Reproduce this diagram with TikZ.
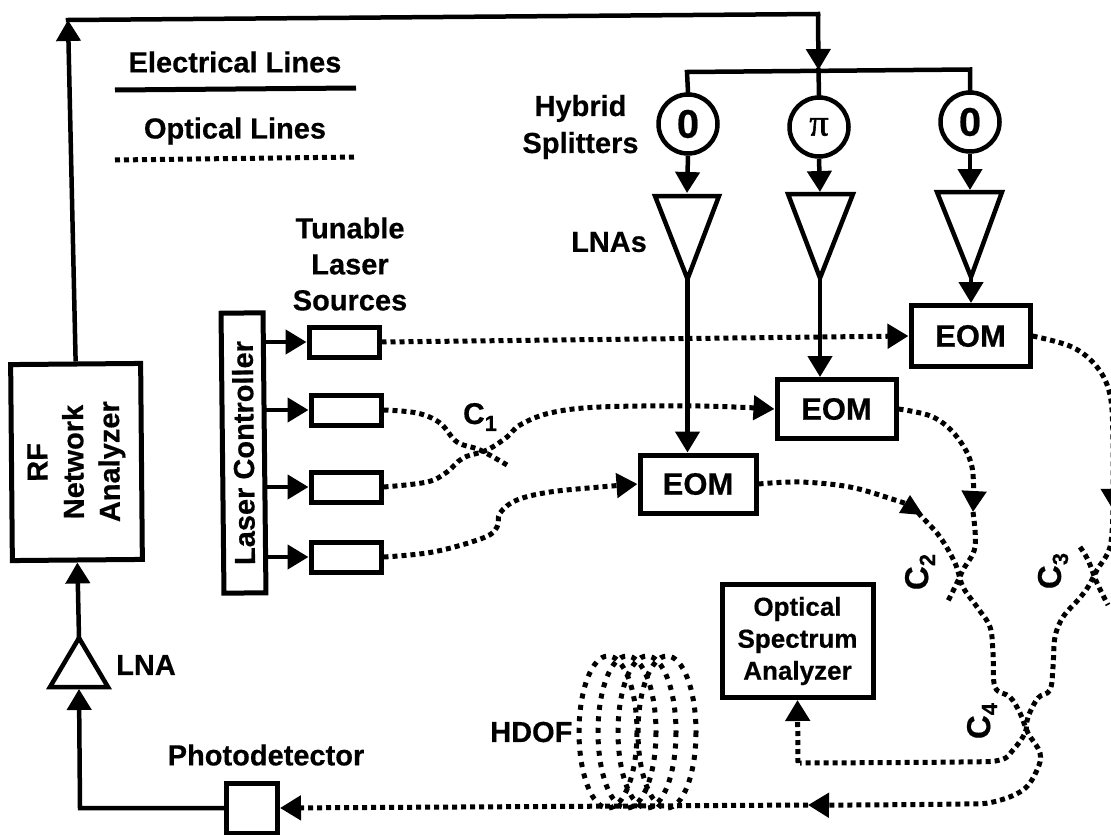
\documentclass[tikz,border=0pt]{standalone}
\usepackage{fontspec}
\setmainfont{Liberation Sans}[BoldFeatures={FakeBold=0.5}]
\newfontfamily\pifont{Liberation Serif}[FakeBold=1.5]
\usetikzlibrary{arrows.meta}
\tikzset{
  x=1pt,y=-1pt,
  el/.style={line width=4.5pt,line join=miter,line cap=rect},
  elt/.style={line width=4.5pt,-{Triangle[length=21pt,width=24pt]}},
  opt/.style={line width=5pt,dash pattern=on 5pt off 4pt},
  optt/.style={line width=5pt,dash pattern=on 5pt off 4pt,-{Triangle[length=21pt,width=24pt]}},
  coil/.style={line width=5pt,dash pattern=on 5pt off 6.5pt},
  boxn/.style={draw,line width=5pt,inner sep=0pt,align=center},
  lbl/.style={font=\fontsize{29}{36}\selectfont\bfseries,inner sep=0pt,align=center},
  eomn/.style={boxn,font=\fontsize{31}{36}\selectfont\bfseries},
  phase/.style={circle,draw,line width=4.5pt,minimum size=59pt,inner sep=0pt},
  srcn/.style={boxn,minimum width=70pt,minimum height=30pt},
  coup/.style={inner sep=0pt,font=\fontsize{30}{34}\selectfont\bfseries},
  coupr/.style={inner sep=0pt,rotate=90,font=\fontsize{33}{36}\selectfont\bfseries},
}
\newcommand{\subdig}[1]{\raisebox{-7pt}{\fontsize{22}{24}\selectfont #1}}
\begin{document}
\begin{tikzpicture}
\useasboundingbox (0,0) rectangle (1111,835);
\clip (0,0) rectangle (1111,835);
% legend
\node[lbl] (legE) at (235,62) {Electrical Lines};
\node[lbl] (legO) at (235,131) {Optical Lines};
\coordinate (le1) at (115,90); \coordinate (le2) at (356,88);
\coordinate (lo1) at (115,160); \coordinate (lo2) at (356,157);
\draw[line width=5pt] (le1) -- (le2);
\draw[opt] (lo1) -- (lo2);
% blocks
\node[boxn,rotate=90.5,minimum width=196pt,minimum height=130pt,font=\fontsize{29}{36}\selectfont\bfseries] (rf) at (76.5,462) {RF\\Network\\Analyzer};
\node[boxn,rotate=90.6,minimum width=280pt,minimum height=42pt,font=\fontsize{29}{34}\selectfont\bfseries] (ctrl) at (243.5,453) {Laser Controller};
\node[srcn] (l1) at (344,342) {};
\node[srcn] (l2) at (346,410) {};
\node[srcn] (l3) at (346,487) {};
\node[srcn] (l4) at (346,557) {};
\node[eomn,minimum width=116pt,minimum height=58pt] (e1) at (698,484) {EOM};
\node[eomn,minimum width=119pt,minimum height=59pt] (e2) at (836.5,409) {EOM};
\node[eomn,minimum width=119pt,minimum height=61pt] (e3) at (970.5,336) {EOM};
\node[boxn,minimum width=151pt,minimum height=113pt,font=\fontsize{26}{32}\selectfont\bfseries] (osa) at (797.5,641) {Optical\\Spectrum\\Analyzer};
\node[boxn,minimum width=51pt,minimum height=50pt] (pd) at (252,808) {};
% phase circles
\node[phase,font=\fontsize{40}{44}\selectfont\bfseries] (s1) at (688,124) {0};
\node[phase,font=\fontsize{38}{40}\selectfont\pifont] (s2) at (819,127) {π};
\node[phase,font=\fontsize{40}{44}\selectfont\bfseries] (s3) at (970,122) {0};
% labels
\node[lbl,font=\fontsize{29}{37}\selectfont\bfseries] (hyb) at (580.5,127) {Hybrid\\Splitters};
\node[lbl] (lnas) at (609,242) {LNAs};
\node[lbl] (tun) at (350,264) {Tunable\\Laser\\Sources};
\node[lbl,anchor=west] (lnat) at (116,665) {LNA};
\node[lbl] (pdt) at (266,755) {Photodetector};
\node[lbl,anchor=west] (hd) at (490,732) {HDOF};
\node[coup] (c1) at (480,417) {C\subdig{1}};
\node[coupr] (c2) at (920,572) {C\subdig{2}};
\node[coupr] (c3) at (1053,571) {C\subdig{3}};
\node[coupr] (c4) at (982,721) {C\subdig{4}};
% amplifiers
\coordinate (a1l) at (655,196); \coordinate (a1r) at (719,196); \coordinate (a1a) at (687.5,279); \coordinate (a1t) at (687,193);
\coordinate (a2l) at (788,194); \coordinate (a2r) at (853,194); \coordinate (a2a) at (820,278); \coordinate (a2t) at (820,192);
\coordinate (a3l) at (937,192); \coordinate (a3r) at (1002,192); \coordinate (a3a) at (971,277); \coordinate (a3t) at (970,190);
\draw[el] (a1l) -- (a1r) -- (a1a) -- cycle;
\draw[el] (a2l) -- (a2r) -- (a2a) -- cycle;
\draw[el] (a3l) -- (a3r) -- (a3a) -- cycle;
\coordinate (aol) at (50,687); \coordinate (aor) at (108,687); \coordinate (aoa) at (79,638); \coordinate (aot) at (79,689);
\draw[el] (aol) -- (aor) -- (aoa) -- cycle;
% optical paths
\draw[optt] (l1.east) -- (e3.west);
\draw[opt] plot[smooth,tension=0.6] coordinates {(l2.east) (417,413) (440,423) (457,442) (480,450) (507,465)};
\draw[optt] plot[smooth,tension=0.6] coordinates {(l3.east) (427,482) (447,472) (463,458) (487,450) (507,437) (520,425) (550,413) (600,407) (700,406) (e2.west)};
\draw[optt] plot[smooth,tension=0.6] coordinates {(l4.east) (433,552) (483,538) (497,527) (500,513) (517,500) (550,492) (600,487) (e1.west)};
% EOM1 through C2 and C4 to the fibre
\coordinate (h1) at (912,506);
\coordinate (fb) at (808,805);
\draw[opt] plot[smooth,tension=0.6] coordinates {(e1.east) (800,482) (850,487) (895,500) (h1)};
\fill (910,495) -- (923,515) -- (899,513) -- cycle;
\draw[optt] plot[smooth,tension=0.6] coordinates {(h1) (922,517) (940,537) (955,563) (963,587) (977,607) (990,627) (993,653) (995,687) (1010,697) (1020,713) (1028,733) (1040,753) (1037,770) (1023,790) (993,802) (960,804) (850,805) (fb)};
% EOM2 through C2
\coordinate (h2) at (973,512);
\draw[optt] plot[smooth,tension=0.6] coordinates {(e2.east) (933,417) (957,437) (972,467) (h2)};
\draw[opt] plot[smooth,tension=0.6] coordinates {(h2) (975,547) (963,570) (955,587) (947,603)};
% EOM3 through C3
\coordinate (h3) at (1113,510);
\draw[optt] plot[smooth,tension=0.6] coordinates {(e3.east) (1072,347) (1097,367) (1110,395) (1113,440) (h3)};
\draw[opt] plot[smooth,tension=0.6] coordinates {(h3) (1110,547) (1097,570) (1088,587) (1078,600) (1063,617) (1055,637) (1053,667) (1050,690) (1038,698) (1028,717) (1025,733) (1013,750) (1000,760) (960,762) (800,763)};
\draw[opt] plot[smooth,tension=0.6] coordinates {(1080,547) (1088,560) (1097,583) (1108,605)};
\coordinate (oc) at (798,763);
\draw[optt] (oc) -- (osa.south);
\draw[optt] (fb) -- (pd.east);
% coil
\draw[coil] (608,732) ellipse (29 and 76);
\draw[coil] (627,732) ellipse (29 and 76);
\draw[coil] (647,732) ellipse (29 and 76);
\draw[coil] (667,732) ellipse (29 and 76);
% electrical paths
\coordinate (topl) at (68,20); \coordinate (topr) at (818,14);
\coordinate (busm) at (818.5,70); \coordinate (busl) at (687,72); \coordinate (busr) at (970,69.5);
\draw[elt] (rf.east) -- (topl);
\draw[el] (topl) -- (topr);
\draw[elt] (topr) -- (busm);
\draw[el] (s1.north) -- (busl) -- (busr) -- (s3.north);
\draw[el] (busm) -- (s2.north);
\draw[elt] (s1.south) -- (a1t);
\draw[elt] (s2.south) -- (a2t);
\draw[elt] (s3.south) -- (a3t);
\draw[elt] (a1a) -- (e1.north -| a1a);
\draw[elt] (a2a) -- (e2.north -| a2a);
\draw[elt] (a3a) -- (e3.north -| a3a);
\coordinate (c1s) at (264,342); \coordinate (c2s) at (265,410); \coordinate (c3s) at (265,487); \coordinate (c4s) at (266,557);
\draw[elt] (c1s) -- (l1.west);
\draw[elt] (c2s) -- (l2.west);
\draw[elt] (c3s) -- (l3.west);
\draw[elt] (c4s) -- (l4.west);
\draw[elt] (aoa) -- (rf.west);
\coordinate (elb) at (80,808);
\draw[elt] (pd.west) -- (elb) -- (aot);
\end{tikzpicture}
\end{document}
